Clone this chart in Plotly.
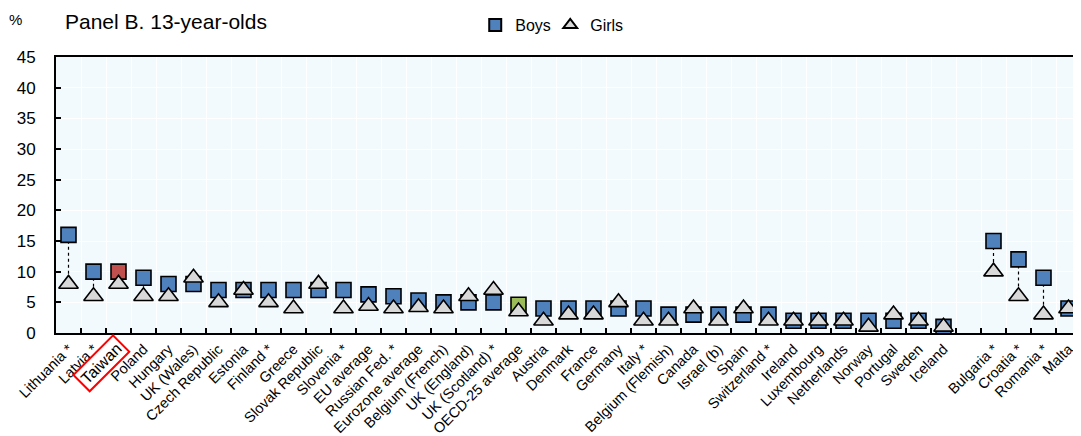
import plotly.graph_objects as go

# ---------------- data ----------------
COUNTRIES_MAIN = ["Lithuania *", "Latvia *", "Taiwan", "Poland", "Hungary", "UK (Wales)",
                  "Czech Republic", "Estonia", "Finland *", "Greece", "Slovak Republic",
                  "Slovenia *", "EU average", "Russian Fed. *", "Eurozone average",
                  "Belgium (French)", "UK (England)", "UK (Scotland) *", "OECD-25 average",
                  "Austria", "Denmark", "France", "Germany", "Italy *", "Belgium (Flemish)",
                  "Canada", "Israel (b)", "Spain", "Switzerland *", "Ireland", "Luxembourg",
                  "Netherlands", "Norway", "Portugal", "Sweden", "Iceland"]
BOYS_MAIN = [16, 10, 10, 9, 8, 8, 7, 7, 7, 7, 7, 7, 6.3, 6, 5.3, 5, 5, 5, 4.6,
             4, 4, 4, 4, 4, 3, 3, 3, 3, 3, 2, 2, 2, 2, 2, 2, 1]
GIRLS_MAIN = [8, 6, 8, 6, 6, 9, 5, 7, 5, 4, 8, 4, 4.4, 4, 4.2, 4, 6, 7, 3.5,
              2, 3, 3, 5, 2, 2, 4, 2, 4, 2, 2, 2, 2, 1, 3, 2, 1]

COUNTRIES_EXTRA = ["Bulgaria *", "Croatia *", "Romania *", "Malta"]
BOYS_EXTRA = [15, 12, 9, 4]
GIRLS_EXTRA = [10, 6, 3, 4]

GAP = " "
HIGHLIGHT = {"Taiwan": "#C0504D", "OECD-25 average": "#9BBB59"}
BOX_LABEL = "Taiwan"

Y_TICKS = [0, 5, 10, 15, 20, 25, 30, 35, 40, 45]

# ---------------- styles ----------------
BLUE = "#4F81BD"
GREY = "#D9D9D9"
FONT = "Liberation Sans, Arial, sans-serif"

countries = COUNTRIES_MAIN + COUNTRIES_EXTRA
boys = BOYS_MAIN + BOYS_EXTRA
girls = GIRLS_MAIN + GIRLS_EXTRA
axis_cats = COUNTRIES_MAIN + [GAP] + COUNTRIES_EXTRA
boy_colors = [HIGHLIGHT.get(c, BLUE) for c in countries]

# connectors between boys and girls
lx, ly = [], []
for c, b, g in zip(countries, boys, girls):
    lx += [c, c, None]
    ly += [b, g, None]

fig = go.Figure()
fig.add_trace(go.Scatter(x=[GAP], y=[None], mode="markers", showlegend=False,
                         hoverinfo="skip"))
fig.add_trace(go.Scatter(x=lx, y=ly, mode="lines", showlegend=False,
                         line=dict(color="black", width=1.2, dash="3px,3px"),
                         hoverinfo="skip"))
fig.add_trace(go.Scatter(x=countries, y=boys, mode="markers", name="Boys",
                         marker=dict(symbol="square", size=15, color=boy_colors,
                                     line=dict(color="black", width=1.6))))
fig.add_trace(go.Scatter(x=countries, y=girls, mode="markers", name="Girls",
                         marker=dict(symbol="triangle-up", size=17, color=GREY,
                                     line=dict(color="black", width=1.6))))

ticktext = ["" if c == BOX_LABEL else c for c in axis_cats]

# page body has an 8px margin: size the figure so the plot lands where the reference has it
W, H = 1073, 428
fig.update_layout(
    width=W, height=H,
    margin=dict(l=48, r=0, t=44, b=103),
    paper_bgcolor="white",
    plot_bgcolor="#F3FAFD",
    font=dict(family=FONT, size=15, color="black"),
    title=dict(text="Panel B. 13-year-olds", x=57 / W, xanchor="left",
               y=1 - 14 / H, yanchor="middle", font=dict(size=21)),
    legend=dict(orientation="h", x=0.409, xanchor="left", y=1 + 33 / 281, yanchor="middle",
                font=dict(size=16), itemsizing="constant", bgcolor="rgba(0,0,0,0)",
                entrywidth=30, entrywidthmode="pixels"),
    showlegend=True,
)

fig.update_xaxes(
    type="category", categoryorder="array", categoryarray=axis_cats,
    range=[-0.5, len(axis_cats) - 0.5],
    tickmode="array", tickvals=axis_cats, ticktext=ticktext,
    tickson="boundaries", ticks="inside", ticklen=5, tickwidth=1.5, tickcolor="black",
    tickangle=-45, tickfont=dict(size=14.5),
    showline=True, linecolor="black", linewidth=2, mirror=True,
    showgrid=True, gridcolor="white", gridwidth=1,
    automargin=False, fixedrange=True,
)
fig.update_yaxes(
    range=[0, 45], tickvals=Y_TICKS, ticks="inside", ticklen=5, tickwidth=1.5,
    tickcolor="black", tickfont=dict(size=17), ticklabelstandoff=15,
    showline=True, linecolor="black", linewidth=2,
    showgrid=True, gridcolor="white", gridwidth=1, zeroline=False,
    automargin=False, fixedrange=True,
)

# "%" unit label
fig.add_annotation(text="%", xref="paper", yref="paper", x=-41 / 1025, y=1 + 38 / 281,
                   showarrow=False, font=dict(size=15), xanchor="center", yanchor="middle")
# boxed Taiwan label
fig.add_annotation(text=BOX_LABEL, xref="x", yref="paper", x=BOX_LABEL, y=0,
                   xshift=-17.5, yshift=-30, showarrow=False, textangle=-45,
                   font=dict(size=16), bordercolor="red", borderwidth=2, borderpad=2,
                   xanchor="center", yanchor="middle")

fig.write_html("out.html")
